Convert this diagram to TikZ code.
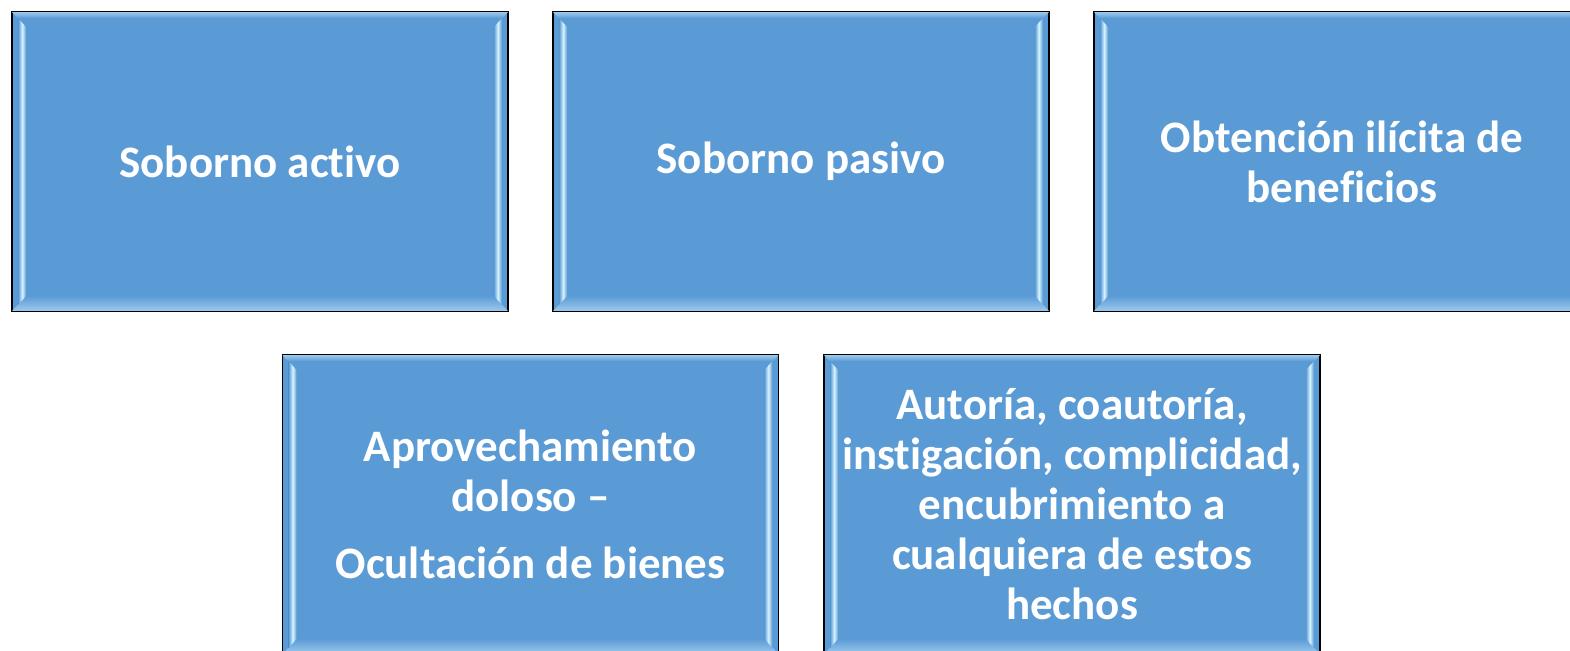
\documentclass[tikz,border=0pt]{standalone}
\usepackage{fontspec}
\setmainfont{Carlito}[Ligatures=NoCommon]
\usetikzlibrary{calc}
\begin{document}
\begin{tikzpicture}[x=1pt,y=-1pt,
  boxnode/.style={draw=black, line width=1.6pt, fill=boxblue, minimum width=496pt, minimum height=299pt, inner sep=0pt},
  lbl/.style={text=white, font=\fontsize{45}{50}\selectfont\bfseries, align=center, inner sep=0pt},
]
\definecolor{boxblue}{HTML}{5B9BD5}
\definecolor{bevlight}{HTML}{D8F4FF}
\definecolor{bevbottom}{HTML}{9CC8EC}
\useasboundingbox (0,0) rectangle (1570,650);
\newcommand{\bevel}[1]{%
  \shade[top color=bevbottom, bottom color=boxblue]
    ($(#1.north west)+(1,1)$) -- ($(#1.north east)+(-1,1)$) -- ($(#1.north east)+(-6,7)$) -- ($(#1.north west)+(6,7)$) -- cycle;
  \shade[top color=boxblue, bottom color=bevbottom]
    ($(#1.south west)+(15,-16)$) -- ($(#1.south east)+(-15,-16)$) -- ($(#1.south east)+(-1,-1)$) -- ($(#1.south west)+(1,-1)$) -- cycle;
  \shade[left color=boxblue, right color=boxblue, middle color=bevlight]
    ($(#1.north west)+(7,7)$) -- ($(#1.north west)+(15,16)$) -- ($(#1.south west)+(15,-16)$) -- ($(#1.south west)+(7,-7)$) -- cycle;
  \shade[left color=boxblue, right color=boxblue, middle color=bevlight]
    ($(#1.north east)+(-7,7)$) -- ($(#1.north east)+(-15,16)$) -- ($(#1.south east)+(-15,-16)$) -- ($(#1.south east)+(-7,-7)$) -- cycle;
}
\node[boxnode] (b1) at (260,161.5) {};
\node[boxnode] (b2) at (801,161.5) {};
\node[boxnode] (b3) at (1342,161.5) {};
\node[boxnode] (b4) at (530.5,504.5) {};
\node[boxnode] (b5) at (1072,504.5) {};
\bevel{b1}\bevel{b2}\bevel{b3}\bevel{b4}\bevel{b5}
\node[lbl] (t1) at (b1) {Soborno activo};
\node[lbl] (t2) at (b2) {Soborno pasivo};
\node[lbl] (t3) at (b3) {Obtención ilícita de\\beneficios};
\node[lbl] (t4) at (b4) {Aprovechamiento\\doloso –\\[17pt]Ocultación de bienes};
\node[lbl] (t5) at (b5) {Autoría, coautoría,\\instigación, complicidad,\\encubrimiento a\\cualquiera de estos\\hechos};
\end{tikzpicture}
\end{document}
